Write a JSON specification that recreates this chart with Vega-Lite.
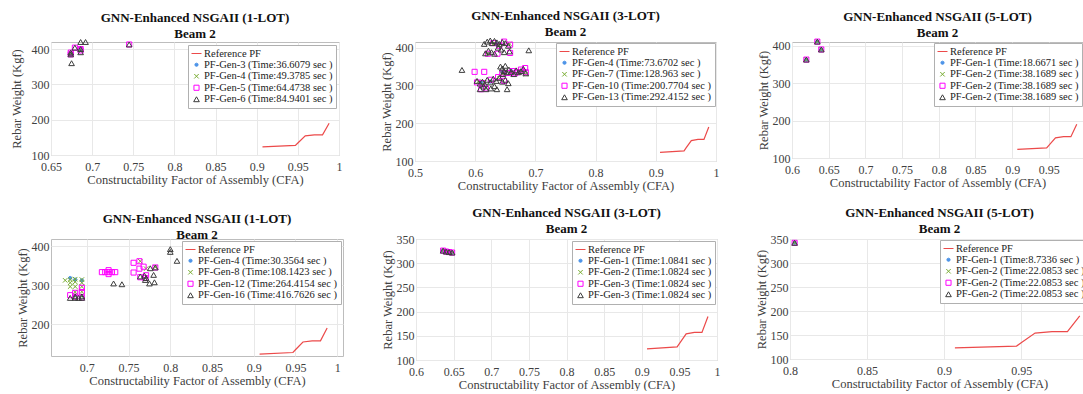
{
  "$schema": "https://vega.github.io/schema/vega-lite/v6.json",
  "background": "white",
  "padding": {"left": 9, "top": 9, "right": 0, "bottom": 0},
  "spacing": 14,
  "config": {
    "view": {"stroke": "#bdbdbd", "strokeWidth": 1},
    "axis": {"grid": true, "gridColor": "#e8e8e8", "domain": false, "ticks": false, "labelFont": "Liberation Serif", "labelFontSize": 12, "labelColor": "#404040", "titleFont": "Liberation Serif", "titleFontSize": 12.5, "titleFontWeight": "normal", "titleColor": "#404040", "labelFlush": false, "labelOverlap": false},
    "axisX": {"labelPadding": 6.5, "titlePadding": 1, "minExtent": 17, "maxExtent": 17},
    "axisY": {"labelPadding": 2, "titlePadding": 2, "minExtent": 20, "maxExtent": 20},
    "legend": {"orient": "top-right", "offset": 2, "labelFont": "Liberation Serif", "labelFontSize": 10.5, "labelColor": "#222222", "strokeColor": "#b0b0b0", "fillColor": "white", "padding": 3, "rowPadding": 0.5, "symbolStrokeWidth": 1, "labelOffset": 2, "symbolOpacity": 1},
    "title": {"font": "Liberation Serif", "fontSize": 13, "fontWeight": "bold", "color": "#111111", "lineHeight": 16, "offset": -3, "anchor": "middle", "frame": "group"}
  },
  "datasets": {
    "ref": [
      {"s": "ref", "x": 0.907, "y": 123}, {"s": "ref", "x": 0.947, "y": 127}, {"s": "ref", "x": 0.95, "y": 134},
      {"s": "ref", "x": 0.959, "y": 154}, {"s": "ref", "x": 0.97, "y": 157}, {"s": "ref", "x": 0.98, "y": 157},
      {"s": "ref", "x": 0.988, "y": 190}
    ],
    "p1": [
      {"s": "g1", "x": 0.674, "y": 385}, {"s": "g1", "x": 0.686, "y": 400},
      {"s": "g2", "x": 0.674, "y": 385}, {"s": "g2", "x": 0.674, "y": 390}, {"s": "g2", "x": 0.686, "y": 400},
      {"s": "g3", "x": 0.674, "y": 385}, {"s": "g3", "x": 0.674, "y": 390}, {"s": "g3", "x": 0.679, "y": 404}, {"s": "g3", "x": 0.686, "y": 400}, {"s": "g3", "x": 0.686, "y": 396}, {"s": "g3", "x": 0.745, "y": 413},
      {"s": "g4", "x": 0.674, "y": 385}, {"s": "g4", "x": 0.674, "y": 390}, {"s": "g4", "x": 0.675, "y": 360}, {"s": "g4", "x": 0.686, "y": 400}, {"s": "g4", "x": 0.686, "y": 391}, {"s": "g4", "x": 0.686, "y": 420}, {"s": "g4", "x": 0.692, "y": 420}, {"s": "g4", "x": 0.745, "y": 413}, {"s": "g4", "x": 0.679, "y": 404}
    ],
    "p2": [
      {"s": "g1", "x": 0.61, "y": 308}, {"s": "g1", "x": 0.625, "y": 310}, {"s": "g1", "x": 0.645, "y": 335}, {"s": "g1", "x": 0.66, "y": 338}, {"s": "g1", "x": 0.635, "y": 410},
      {"s": "g2", "x": 0.605, "y": 310}, {"s": "g2", "x": 0.615, "y": 308}, {"s": "g2", "x": 0.625, "y": 312}, {"s": "g2", "x": 0.64, "y": 318}, {"s": "g2", "x": 0.645, "y": 330}, {"s": "g2", "x": 0.66, "y": 335}, {"s": "g2", "x": 0.675, "y": 338}, {"s": "g2", "x": 0.684, "y": 330}, {"s": "g2", "x": 0.63, "y": 410}, {"s": "g2", "x": 0.64, "y": 405}, {"s": "g2", "x": 0.657, "y": 410}, {"s": "g2", "x": 0.62, "y": 385},
      {"s": "g3", "x": 0.599, "y": 336}, {"s": "g3", "x": 0.615, "y": 336}, {"s": "g3", "x": 0.618, "y": 292}, {"s": "g3", "x": 0.683, "y": 346}, {"s": "g3", "x": 0.658, "y": 408}, {"s": "g3", "x": 0.658, "y": 386}, {"s": "g3", "x": 0.637, "y": 384}, {"s": "g3", "x": 0.621, "y": 384}, {"s": "g3", "x": 0.603, "y": 308}, {"s": "g3", "x": 0.612, "y": 306}, {"s": "g3", "x": 0.626, "y": 315}, {"s": "g3", "x": 0.638, "y": 322}, {"s": "g3", "x": 0.648, "y": 312}, {"s": "g3", "x": 0.655, "y": 333}, {"s": "g3", "x": 0.662, "y": 338}, {"s": "g3", "x": 0.67, "y": 335}, {"s": "g3", "x": 0.676, "y": 342}, {"s": "g3", "x": 0.684, "y": 335}, {"s": "g3", "x": 0.63, "y": 412}, {"s": "g3", "x": 0.64, "y": 405}, {"s": "g3", "x": 0.648, "y": 416}, {"s": "g3", "x": 0.61, "y": 290}, {"s": "g3", "x": 0.645, "y": 332}, {"s": "g3", "x": 0.666, "y": 332},
      {"s": "g4", "x": 0.615, "y": 410}, {"s": "g4", "x": 0.62, "y": 416}, {"s": "g4", "x": 0.625, "y": 419}, {"s": "g4", "x": 0.628, "y": 412}, {"s": "g4", "x": 0.632, "y": 418}, {"s": "g4", "x": 0.636, "y": 414}, {"s": "g4", "x": 0.64, "y": 410}, {"s": "g4", "x": 0.645, "y": 415}, {"s": "g4", "x": 0.65, "y": 412}, {"s": "g4", "x": 0.617, "y": 385}, {"s": "g4", "x": 0.622, "y": 392}, {"s": "g4", "x": 0.627, "y": 388}, {"s": "g4", "x": 0.632, "y": 384}, {"s": "g4", "x": 0.638, "y": 400}, {"s": "g4", "x": 0.643, "y": 395}, {"s": "g4", "x": 0.648, "y": 388}, {"s": "g4", "x": 0.655, "y": 405}, {"s": "g4", "x": 0.657, "y": 390}, {"s": "g4", "x": 0.689, "y": 393},
      {"s": "g4", "x": 0.578, "y": 341}, {"s": "g4", "x": 0.642, "y": 350}, {"s": "g4", "x": 0.645, "y": 345}, {"s": "g4", "x": 0.648, "y": 338}, {"s": "g4", "x": 0.652, "y": 335}, {"s": "g4", "x": 0.656, "y": 342}, {"s": "g4", "x": 0.66, "y": 336}, {"s": "g4", "x": 0.664, "y": 330}, {"s": "g4", "x": 0.668, "y": 340}, {"s": "g4", "x": 0.672, "y": 335}, {"s": "g4", "x": 0.676, "y": 338}, {"s": "g4", "x": 0.68, "y": 344}, {"s": "g4", "x": 0.684, "y": 332}, {"s": "g4", "x": 0.646, "y": 330}, {"s": "g4", "x": 0.65, "y": 352},
      {"s": "g4", "x": 0.603, "y": 312}, {"s": "g4", "x": 0.608, "y": 305}, {"s": "g4", "x": 0.612, "y": 310}, {"s": "g4", "x": 0.616, "y": 303}, {"s": "g4", "x": 0.62, "y": 315}, {"s": "g4", "x": 0.625, "y": 308}, {"s": "g4", "x": 0.63, "y": 318}, {"s": "g4", "x": 0.635, "y": 312}, {"s": "g4", "x": 0.64, "y": 320}, {"s": "g4", "x": 0.645, "y": 310}, {"s": "g4", "x": 0.65, "y": 315}, {"s": "g4", "x": 0.655, "y": 306}, {"s": "g4", "x": 0.608, "y": 290}, {"s": "g4", "x": 0.618, "y": 290}, {"s": "g4", "x": 0.626, "y": 292}, {"s": "g4", "x": 0.636, "y": 290}, {"s": "g4", "x": 0.653, "y": 290}, {"s": "g4", "x": 0.614, "y": 297}, {"s": "g4", "x": 0.632, "y": 298}
    ],
    "p3": [
      {"s": "g1", "x": 0.6195, "y": 363}, {"s": "g1", "x": 0.6345, "y": 411}, {"s": "g1", "x": 0.6399, "y": 390},
      {"s": "g2", "x": 0.6195, "y": 363}, {"s": "g2", "x": 0.6345, "y": 411}, {"s": "g2", "x": 0.6399, "y": 390},
      {"s": "g3", "x": 0.6195, "y": 363}, {"s": "g3", "x": 0.6345, "y": 411}, {"s": "g3", "x": 0.6399, "y": 390},
      {"s": "g4", "x": 0.6195, "y": 363}, {"s": "g4", "x": 0.6345, "y": 411}, {"s": "g4", "x": 0.6399, "y": 390}
    ],
    "p4": [
      {"s": "g1", "x": 0.68, "y": 318}, {"s": "g1", "x": 0.686, "y": 314}, {"s": "g1", "x": 0.694, "y": 312},
      {"s": "g2", "x": 0.674, "y": 312}, {"s": "g2", "x": 0.68, "y": 314}, {"s": "g2", "x": 0.68, "y": 306}, {"s": "g2", "x": 0.68, "y": 296}, {"s": "g2", "x": 0.686, "y": 315}, {"s": "g2", "x": 0.686, "y": 308}, {"s": "g2", "x": 0.686, "y": 296}, {"s": "g2", "x": 0.686, "y": 282}, {"s": "g2", "x": 0.694, "y": 314}, {"s": "g2", "x": 0.694, "y": 306}, {"s": "g2", "x": 0.694, "y": 296}, {"s": "g2", "x": 0.694, "y": 283}, {"s": "g2", "x": 0.764, "y": 361}, {"s": "g2", "x": 0.771, "y": 342}, {"s": "g2", "x": 0.782, "y": 346},
      {"s": "g3", "x": 0.68, "y": 274}, {"s": "g3", "x": 0.686, "y": 280}, {"s": "g3", "x": 0.694, "y": 293}, {"s": "g3", "x": 0.694, "y": 282}, {"s": "g3", "x": 0.686, "y": 270}, {"s": "g3", "x": 0.694, "y": 268}, {"s": "g3", "x": 0.718, "y": 333}, {"s": "g3", "x": 0.722, "y": 333}, {"s": "g3", "x": 0.726, "y": 333}, {"s": "g3", "x": 0.73, "y": 333}, {"s": "g3", "x": 0.734, "y": 333}, {"s": "g3", "x": 0.726, "y": 328}, {"s": "g3", "x": 0.726, "y": 338}, {"s": "g3", "x": 0.756, "y": 357}, {"s": "g3", "x": 0.756, "y": 332}, {"s": "g3", "x": 0.763, "y": 361}, {"s": "g3", "x": 0.763, "y": 342}, {"s": "g3", "x": 0.768, "y": 347}, {"s": "g3", "x": 0.764, "y": 320}, {"s": "g3", "x": 0.77, "y": 318}, {"s": "g3", "x": 0.771, "y": 325}, {"s": "g3", "x": 0.782, "y": 345},
      {"s": "g4", "x": 0.68, "y": 267}, {"s": "g4", "x": 0.686, "y": 267}, {"s": "g4", "x": 0.69, "y": 267}, {"s": "g4", "x": 0.694, "y": 267}, {"s": "g4", "x": 0.686, "y": 271}, {"s": "g4", "x": 0.694, "y": 271}, {"s": "g4", "x": 0.732, "y": 304}, {"s": "g4", "x": 0.742, "y": 302}, {"s": "g4", "x": 0.764, "y": 322}, {"s": "g4", "x": 0.769, "y": 324}, {"s": "g4", "x": 0.771, "y": 318}, {"s": "g4", "x": 0.776, "y": 343}, {"s": "g4", "x": 0.782, "y": 345}, {"s": "g4", "x": 0.78, "y": 326}, {"s": "g4", "x": 0.77, "y": 313}, {"s": "g4", "x": 0.775, "y": 304}, {"s": "g4", "x": 0.781, "y": 307}, {"s": "g4", "x": 0.8, "y": 392}, {"s": "g4", "x": 0.8, "y": 385}, {"s": "g4", "x": 0.808, "y": 362}
    ],
    "p5": [
      {"s": "g1", "x": 0.636, "y": 326}, {"s": "g1", "x": 0.64, "y": 324}, {"s": "g1", "x": 0.644, "y": 323}, {"s": "g1", "x": 0.648, "y": 322},
      {"s": "g2", "x": 0.636, "y": 326}, {"s": "g2", "x": 0.64, "y": 324}, {"s": "g2", "x": 0.644, "y": 323}, {"s": "g2", "x": 0.648, "y": 322},
      {"s": "g3", "x": 0.636, "y": 326}, {"s": "g3", "x": 0.64, "y": 324}, {"s": "g3", "x": 0.644, "y": 323}, {"s": "g3", "x": 0.648, "y": 322},
      {"s": "g4", "x": 0.636, "y": 326}, {"s": "g4", "x": 0.64, "y": 324}, {"s": "g4", "x": 0.644, "y": 323}, {"s": "g4", "x": 0.648, "y": 322}
    ],
    "p6": [
      {"s": "g1", "x": 0.803, "y": 342}, {"s": "g2", "x": 0.803, "y": 342}, {"s": "g3", "x": 0.803, "y": 342}, {"s": "g4", "x": 0.803, "y": 342}
    ]
  },
  "resolve": {"scale": {"x": "independent", "y": "independent", "stroke": "independent", "fill": "independent", "shape": "independent", "size": "independent"}, "legend": {"stroke": "independent", "fill": "independent", "shape": "independent", "size": "independent"}, "axis": {"x": "independent", "y": "independent"}},
  "vconcat": [
    {
      "spacing": 76,
      "bounds": "flush",
      "resolve": {"scale": {"x": "independent", "y": "independent", "stroke": "independent", "fill": "independent", "shape": "independent", "size": "independent"}, "legend": {"stroke": "independent", "fill": "independent", "shape": "independent", "size": "independent"}, "axis": {"x": "independent", "y": "independent"}},
      "hconcat": [
        {
          "title": {"text": ["GNN-Enhanced NSGAII (1-LOT)", "Beam 2"]},
          "width": 288, "height": 113,
          "encoding": {
            "x": {"field": "x", "type": "quantitative", "scale": {"domain": [0.65, 1], "nice": false, "zero": false}, "axis": {"values": [0.65, 0.7, 0.75, 0.8, 0.85, 0.9, 0.95, 1], "format": "~r", "title": "Constructability Factor of Assembly (CFA)"}},
            "y": {"field": "y", "type": "quantitative", "scale": {"domain": [100, 420], "nice": false, "zero": false}, "axis": {"values": [100, 200, 300, 400], "format": "~r", "title": "Rebar Weight (Kgf)", "minExtent": 26, "maxExtent": 26}},
            "stroke": {"field": "s", "type": "nominal", "scale": {"domain": ["ref", "g1", "g2", "g3", "g4"], "range": ["#ec4a4a", "#4d94e8", "#77ac30", "#ff00ff", "#3c3c3c"]}, "legend": {"title": null, "offset": 3, "labelExpr": "datum.label == 'ref' ? 'Reference PF' : datum.label == 'g1' ? 'PF-Gen-3 (Time:36.6079 sec )' : datum.label == 'g2' ? 'PF-Gen-4 (Time:49.3785 sec )' : datum.label == 'g3' ? 'PF-Gen-5 (Time:64.4738 sec )' : 'PF-Gen-6 (Time:84.9401 sec )'"}}
          },
          "layer": [
            {"data": {"name": "ref"}, "mark": {"type": "line", "strokeWidth": 1.2}, "encoding": {}},
            {"data": {"name": "p1"}, "mark": {"type": "point", "opacity": 1, "strokeWidth": 1},
             "encoding": {
               "fill": {"field": "s", "type": "nominal", "scale": {"domain": ["ref", "g1", "g2", "g3", "g4"], "range": ["transparent", "#4d94e8", "transparent", "transparent", "transparent"]}, "legend": {"title": null, "offset": 3, "labelExpr": "datum.label == 'ref' ? 'Reference PF' : datum.label == 'g1' ? 'PF-Gen-3 (Time:36.6079 sec )' : datum.label == 'g2' ? 'PF-Gen-4 (Time:49.3785 sec )' : datum.label == 'g3' ? 'PF-Gen-5 (Time:64.4738 sec )' : 'PF-Gen-6 (Time:84.9401 sec )'"}},
               "shape": {"field": "s", "type": "nominal", "scale": {"domain": ["ref", "g1", "g2", "g3", "g4"], "range": ["stroke", "circle", "M-1,-1L1,1M-1,1L1,-1", "square", "triangle-up"]}, "legend": {"title": null, "offset": 3, "labelExpr": "datum.label == 'ref' ? 'Reference PF' : datum.label == 'g1' ? 'PF-Gen-3 (Time:36.6079 sec )' : datum.label == 'g2' ? 'PF-Gen-4 (Time:49.3785 sec )' : datum.label == 'g3' ? 'PF-Gen-5 (Time:64.4738 sec )' : 'PF-Gen-6 (Time:84.9401 sec )'"}},
               "size": {"field": "s", "type": "nominal", "scale": {"type": "ordinal", "domain": ["ref", "g1", "g2", "g3", "g4"], "range": [100, 10, 20, 26, 32]}, "legend": {"title": null, "offset": 3, "labelExpr": "datum.label == 'ref' ? 'Reference PF' : datum.label == 'g1' ? 'PF-Gen-3 (Time:36.6079 sec )' : datum.label == 'g2' ? 'PF-Gen-4 (Time:49.3785 sec )' : datum.label == 'g3' ? 'PF-Gen-5 (Time:64.4738 sec )' : 'PF-Gen-6 (Time:84.9401 sec )'"}}
             }}
          ]
        },
        {
          "title": {"text": ["GNN-Enhanced NSGAII (3-LOT)", "Beam 2"]},
          "width": 301, "height": 119,
          "encoding": {
            "x": {"field": "x", "type": "quantitative", "scale": {"domain": [0.5, 1], "nice": false, "zero": false}, "axis": {"values": [0.5, 0.6, 0.7, 0.8, 0.9, 1], "format": "~r", "title": "Constructability Factor of Assembly (CFA)"}},
            "y": {"field": "y", "type": "quantitative", "scale": {"domain": [100, 415], "nice": false, "zero": false}, "axis": {"values": [100, 200, 300, 400], "format": "~r", "title": "Rebar Weight (Kgf)"}},
            "stroke": {"field": "s", "type": "nominal", "scale": {"domain": ["ref", "g1", "g2", "g3", "g4"], "range": ["#ec4a4a", "#4d94e8", "#77ac30", "#ff00ff", "#3c3c3c"]}, "legend": {"title": null, "offset": 1, "labelExpr": "datum.label == 'ref' ? 'Reference PF' : datum.label == 'g1' ? 'PF-Gen-4 (Time:73.6702 sec )' : datum.label == 'g2' ? 'PF-Gen-7 (Time:128.963 sec )' : datum.label == 'g3' ? 'PF-Gen-10 (Time:200.7704 sec )' : 'PF-Gen-13 (Time:292.4152 sec )'"}}
          },
          "layer": [
            {"data": {"name": "ref"}, "mark": {"type": "line", "strokeWidth": 1.2}, "encoding": {}},
            {"data": {"name": "p2"}, "mark": {"type": "point", "opacity": 1, "strokeWidth": 1},
             "encoding": {
               "fill": {"field": "s", "type": "nominal", "scale": {"domain": ["ref", "g1", "g2", "g3", "g4"], "range": ["transparent", "#4d94e8", "transparent", "transparent", "transparent"]}, "legend": {"title": null, "offset": 1, "labelExpr": "datum.label == 'ref' ? 'Reference PF' : datum.label == 'g1' ? 'PF-Gen-4 (Time:73.6702 sec )' : datum.label == 'g2' ? 'PF-Gen-7 (Time:128.963 sec )' : datum.label == 'g3' ? 'PF-Gen-10 (Time:200.7704 sec )' : 'PF-Gen-13 (Time:292.4152 sec )'"}},
               "shape": {"field": "s", "type": "nominal", "scale": {"domain": ["ref", "g1", "g2", "g3", "g4"], "range": ["stroke", "circle", "M-1,-1L1,1M-1,1L1,-1", "square", "triangle-up"]}, "legend": {"title": null, "offset": 1, "labelExpr": "datum.label == 'ref' ? 'Reference PF' : datum.label == 'g1' ? 'PF-Gen-4 (Time:73.6702 sec )' : datum.label == 'g2' ? 'PF-Gen-7 (Time:128.963 sec )' : datum.label == 'g3' ? 'PF-Gen-10 (Time:200.7704 sec )' : 'PF-Gen-13 (Time:292.4152 sec )'"}},
               "size": {"field": "s", "type": "nominal", "scale": {"type": "ordinal", "domain": ["ref", "g1", "g2", "g3", "g4"], "range": [100, 10, 20, 26, 32]}, "legend": {"title": null, "offset": 1, "labelExpr": "datum.label == 'ref' ? 'Reference PF' : datum.label == 'g1' ? 'PF-Gen-4 (Time:73.6702 sec )' : datum.label == 'g2' ? 'PF-Gen-7 (Time:128.963 sec )' : datum.label == 'g3' ? 'PF-Gen-10 (Time:200.7704 sec )' : 'PF-Gen-13 (Time:292.4152 sec )'"}}
             }}
          ]
        },
        {
          "title": {"text": ["GNN-Enhanced NSGAII (5-LOT)", "Beam 2"]},
          "width": 291, "height": 116,
          "encoding": {
            "x": {"field": "x", "type": "quantitative", "scale": {"domain": [0.6, 0.9965], "nice": false, "zero": false}, "axis": {"values": [0.6, 0.65, 0.7, 0.75, 0.8, 0.85, 0.9, 0.95], "format": "~r", "title": "Constructability Factor of Assembly (CFA)"}},
            "y": {"field": "y", "type": "quantitative", "scale": {"domain": [100, 410], "nice": false, "zero": false}, "axis": {"values": [100, 200, 300, 400], "format": "~r", "title": "Rebar Weight (Kgf)"}},
            "stroke": {"field": "s", "type": "nominal", "scale": {"domain": ["ref", "g1", "g2", "g3", "g4"], "range": ["#ec4a4a", "#4d94e8", "#77ac30", "#ff00ff", "#3c3c3c"]}, "legend": {"title": null, "offset": 1, "labelExpr": "datum.label == 'ref' ? 'Reference PF' : datum.label == 'g1' ? 'PF-Gen-1 (Time:18.6671 sec )' : 'PF-Gen-2 (Time:38.1689 sec )'"}}
          },
          "layer": [
            {"data": {"name": "ref"}, "mark": {"type": "line", "strokeWidth": 1.2}, "encoding": {}},
            {"data": {"name": "p3"}, "mark": {"type": "point", "opacity": 1, "strokeWidth": 1},
             "encoding": {
               "fill": {"field": "s", "type": "nominal", "scale": {"domain": ["ref", "g1", "g2", "g3", "g4"], "range": ["transparent", "#4d94e8", "transparent", "transparent", "transparent"]}, "legend": {"title": null, "offset": 1, "labelExpr": "datum.label == 'ref' ? 'Reference PF' : datum.label == 'g1' ? 'PF-Gen-1 (Time:18.6671 sec )' : 'PF-Gen-2 (Time:38.1689 sec )'"}},
               "shape": {"field": "s", "type": "nominal", "scale": {"domain": ["ref", "g1", "g2", "g3", "g4"], "range": ["stroke", "circle", "M-1,-1L1,1M-1,1L1,-1", "square", "triangle-up"]}, "legend": {"title": null, "offset": 1, "labelExpr": "datum.label == 'ref' ? 'Reference PF' : datum.label == 'g1' ? 'PF-Gen-1 (Time:18.6671 sec )' : 'PF-Gen-2 (Time:38.1689 sec )'"}},
               "size": {"field": "s", "type": "nominal", "scale": {"type": "ordinal", "domain": ["ref", "g1", "g2", "g3", "g4"], "range": [100, 10, 20, 26, 32]}, "legend": {"title": null, "offset": 1, "labelExpr": "datum.label == 'ref' ? 'Reference PF' : datum.label == 'g1' ? 'PF-Gen-1 (Time:18.6671 sec )' : 'PF-Gen-2 (Time:38.1689 sec )'"}}
             }}
          ]
        }
      ]
    },
    {
      "spacing": 73,
      "bounds": "flush",
      "resolve": {"scale": {"x": "independent", "y": "independent", "stroke": "independent", "fill": "independent", "shape": "independent", "size": "independent"}, "legend": {"stroke": "independent", "fill": "independent", "shape": "independent", "size": "independent"}, "axis": {"x": "independent", "y": "independent"}},
      "hconcat": [
        {
          "title": {"text": ["GNN-Enhanced NSGAII (1-LOT)", "Beam 2"]},
          "width": 292, "height": 117,
          "encoding": {
            "x": {"field": "x", "type": "quantitative", "scale": {"domain": [0.657, 1.007], "nice": false, "zero": false}, "axis": {"values": [0.7, 0.75, 0.8, 0.85, 0.9, 0.95, 1], "format": "~r", "title": "Constructability Factor of Assembly (CFA)"}},
            "y": {"field": "y", "type": "quantitative", "scale": {"domain": [118, 418], "nice": false, "zero": false}, "axis": {"values": [200, 300, 400], "format": "~r", "title": "Rebar Weight (Kgf)"}},
            "stroke": {"field": "s", "type": "nominal", "scale": {"domain": ["ref", "g1", "g2", "g3", "g4"], "range": ["#ec4a4a", "#4d94e8", "#77ac30", "#ff00ff", "#3c3c3c"]}, "legend": {"title": null, "offset": 2, "labelExpr": "datum.label == 'ref' ? 'Reference PF' : datum.label == 'g1' ? 'PF-Gen-4 (Time:30.3564 sec )' : datum.label == 'g2' ? 'PF-Gen-8 (Time:108.1423 sec )' : datum.label == 'g3' ? 'PF-Gen-12 (Time:264.4154 sec )' : 'PF-Gen-16 (Time:416.7626 sec )'"}}
          },
          "layer": [
            {"data": {"name": "ref"}, "mark": {"type": "line", "strokeWidth": 1.2}, "encoding": {}},
            {"data": {"name": "p4"}, "mark": {"type": "point", "opacity": 1, "strokeWidth": 1},
             "encoding": {
               "fill": {"field": "s", "type": "nominal", "scale": {"domain": ["ref", "g1", "g2", "g3", "g4"], "range": ["transparent", "#4d94e8", "transparent", "transparent", "transparent"]}, "legend": {"title": null, "offset": 2, "labelExpr": "datum.label == 'ref' ? 'Reference PF' : datum.label == 'g1' ? 'PF-Gen-4 (Time:30.3564 sec )' : datum.label == 'g2' ? 'PF-Gen-8 (Time:108.1423 sec )' : datum.label == 'g3' ? 'PF-Gen-12 (Time:264.4154 sec )' : 'PF-Gen-16 (Time:416.7626 sec )'"}},
               "shape": {"field": "s", "type": "nominal", "scale": {"domain": ["ref", "g1", "g2", "g3", "g4"], "range": ["stroke", "circle", "M-1,-1L1,1M-1,1L1,-1", "square", "triangle-up"]}, "legend": {"title": null, "offset": 2, "labelExpr": "datum.label == 'ref' ? 'Reference PF' : datum.label == 'g1' ? 'PF-Gen-4 (Time:30.3564 sec )' : datum.label == 'g2' ? 'PF-Gen-8 (Time:108.1423 sec )' : datum.label == 'g3' ? 'PF-Gen-12 (Time:264.4154 sec )' : 'PF-Gen-16 (Time:416.7626 sec )'"}},
               "size": {"field": "s", "type": "nominal", "scale": {"type": "ordinal", "domain": ["ref", "g1", "g2", "g3", "g4"], "range": [100, 10, 20, 26, 32]}, "legend": {"title": null, "offset": 2, "labelExpr": "datum.label == 'ref' ? 'Reference PF' : datum.label == 'g1' ? 'PF-Gen-4 (Time:30.3564 sec )' : datum.label == 'g2' ? 'PF-Gen-8 (Time:108.1423 sec )' : datum.label == 'g3' ? 'PF-Gen-12 (Time:264.4154 sec )' : 'PF-Gen-16 (Time:416.7626 sec )'"}}
             }}
          ]
        },
        {
          "title": {"text": ["GNN-Enhanced NSGAII (3-LOT)", "Beam 2"]},
          "width": 301, "height": 121,
          "encoding": {
            "x": {"field": "x", "type": "quantitative", "scale": {"domain": [0.6, 1], "nice": false, "zero": false}, "axis": {"values": [0.6, 0.65, 0.7, 0.75, 0.8, 0.85, 0.9, 0.95, 1], "format": "~r", "title": "Constructability Factor of Assembly (CFA)"}},
            "y": {"field": "y", "type": "quantitative", "scale": {"domain": [100, 350], "nice": false, "zero": false}, "axis": {"values": [100, 150, 200, 250, 300, 350], "format": "~r", "title": "Rebar Weight (Kgf)"}},
            "stroke": {"field": "s", "type": "nominal", "scale": {"domain": ["ref", "g1", "g2", "g3", "g4"], "range": ["#ec4a4a", "#4d94e8", "#77ac30", "#ff00ff", "#3c3c3c"]}, "legend": {"title": null, "offset": 2, "labelExpr": "datum.label == 'ref' ? 'Reference PF' : datum.label == 'g1' ? 'PF-Gen-1 (Time:1.0841 sec )' : datum.label == 'g2' ? 'PF-Gen-2 (Time:1.0824 sec )' : 'PF-Gen-3 (Time:1.0824 sec )'"}}
          },
          "layer": [
            {"data": {"name": "ref"}, "mark": {"type": "line", "strokeWidth": 1.2}, "encoding": {}},
            {"data": {"name": "p5"}, "mark": {"type": "point", "opacity": 1, "strokeWidth": 1},
             "encoding": {
               "fill": {"field": "s", "type": "nominal", "scale": {"domain": ["ref", "g1", "g2", "g3", "g4"], "range": ["transparent", "#4d94e8", "transparent", "transparent", "transparent"]}, "legend": {"title": null, "offset": 2, "labelExpr": "datum.label == 'ref' ? 'Reference PF' : datum.label == 'g1' ? 'PF-Gen-1 (Time:1.0841 sec )' : datum.label == 'g2' ? 'PF-Gen-2 (Time:1.0824 sec )' : 'PF-Gen-3 (Time:1.0824 sec )'"}},
               "shape": {"field": "s", "type": "nominal", "scale": {"domain": ["ref", "g1", "g2", "g3", "g4"], "range": ["stroke", "circle", "M-1,-1L1,1M-1,1L1,-1", "square", "triangle-up"]}, "legend": {"title": null, "offset": 2, "labelExpr": "datum.label == 'ref' ? 'Reference PF' : datum.label == 'g1' ? 'PF-Gen-1 (Time:1.0841 sec )' : datum.label == 'g2' ? 'PF-Gen-2 (Time:1.0824 sec )' : 'PF-Gen-3 (Time:1.0824 sec )'"}},
               "size": {"field": "s", "type": "nominal", "scale": {"type": "ordinal", "domain": ["ref", "g1", "g2", "g3", "g4"], "range": [100, 10, 20, 26, 32]}, "legend": {"title": null, "offset": 2, "labelExpr": "datum.label == 'ref' ? 'Reference PF' : datum.label == 'g1' ? 'PF-Gen-1 (Time:1.0841 sec )' : datum.label == 'g2' ? 'PF-Gen-2 (Time:1.0824 sec )' : 'PF-Gen-3 (Time:1.0824 sec )'"}}
             }}
          ]
        },
        {
          "title": {"text": ["GNN-Enhanced NSGAII (5-LOT)", "Beam 2"]},
          "width": 299, "height": 120,
          "encoding": {
            "x": {"field": "x", "type": "quantitative", "scale": {"domain": [0.8, 0.994], "nice": false, "zero": false}, "axis": {"values": [0.8, 0.85, 0.9, 0.95], "format": "~r", "title": "Constructability Factor of Assembly (CFA)"}},
            "y": {"field": "y", "type": "quantitative", "scale": {"domain": [100, 350], "nice": false, "zero": false}, "axis": {"values": [100, 150, 200, 250, 300, 350], "format": "~r", "title": "Rebar Weight (Kgf)"}},
            "stroke": {"field": "s", "type": "nominal", "scale": {"domain": ["ref", "g1", "g2", "g3", "g4"], "range": ["#ec4a4a", "#4d94e8", "#77ac30", "#ff00ff", "#3c3c3c"]}, "legend": {"title": null, "offset": 1, "labelExpr": "datum.label == 'ref' ? 'Reference PF' : datum.label == 'g1' ? 'PF-Gen-1 (Time:8.7336 sec )' : 'PF-Gen-2 (Time:22.0853 sec )'"}}
          },
          "layer": [
            {"data": {"name": "ref"}, "mark": {"type": "line", "strokeWidth": 1.2}, "encoding": {}},
            {"data": {"name": "p6"}, "mark": {"type": "point", "opacity": 1, "strokeWidth": 1},
             "encoding": {
               "fill": {"field": "s", "type": "nominal", "scale": {"domain": ["ref", "g1", "g2", "g3", "g4"], "range": ["transparent", "#4d94e8", "transparent", "transparent", "transparent"]}, "legend": {"title": null, "offset": 1, "labelExpr": "datum.label == 'ref' ? 'Reference PF' : datum.label == 'g1' ? 'PF-Gen-1 (Time:8.7336 sec )' : 'PF-Gen-2 (Time:22.0853 sec )'"}},
               "shape": {"field": "s", "type": "nominal", "scale": {"domain": ["ref", "g1", "g2", "g3", "g4"], "range": ["stroke", "circle", "M-1,-1L1,1M-1,1L1,-1", "square", "triangle-up"]}, "legend": {"title": null, "offset": 1, "labelExpr": "datum.label == 'ref' ? 'Reference PF' : datum.label == 'g1' ? 'PF-Gen-1 (Time:8.7336 sec )' : 'PF-Gen-2 (Time:22.0853 sec )'"}},
               "size": {"field": "s", "type": "nominal", "scale": {"type": "ordinal", "domain": ["ref", "g1", "g2", "g3", "g4"], "range": [100, 10, 20, 26, 32]}, "legend": {"title": null, "offset": 1, "labelExpr": "datum.label == 'ref' ? 'Reference PF' : datum.label == 'g1' ? 'PF-Gen-1 (Time:8.7336 sec )' : 'PF-Gen-2 (Time:22.0853 sec )'"}}
             }}
          ]
        }
      ]
    }
  ]
}
